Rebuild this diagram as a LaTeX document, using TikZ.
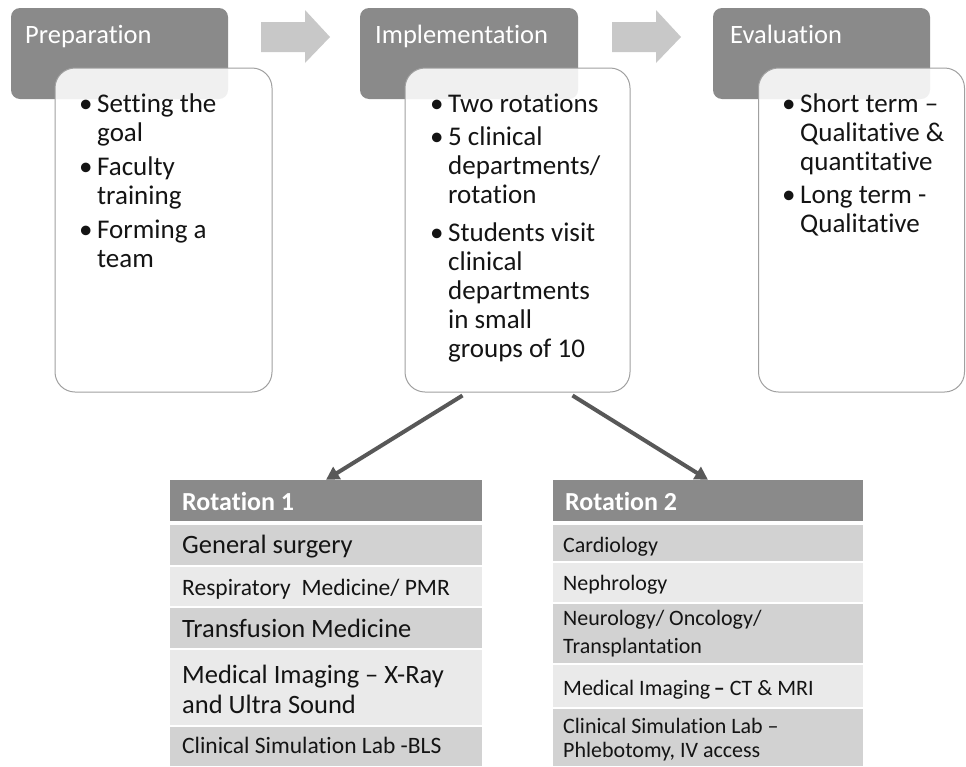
\documentclass[tikz,border=0pt]{standalone}
\usepackage{fontspec}
\setmainfont{Carlito}[Ligatures={NoCommon}]
\usetikzlibrary{arrows.meta}
\definecolor{hdr}{RGB}{138,138,138}
\definecolor{arrowfill}{RGB}{200,200,200}
\definecolor{boxline}{RGB}{160,160,160}
\definecolor{rowdark}{RGB}{210,210,210}
\definecolor{rowlight}{RGB}{234,234,234}
\definecolor{conn}{RGB}{88,88,88}
\definecolor{txt}{RGB}{20,20,20}
\newcommand{\bigbul}{\hspace*{2pt}\textbullet}
\begin{document}
\begin{tikzpicture}[x=1pt,y=-1pt,
  hdrbox/.style={fill=hdr, draw=none, rounded corners=9pt, inner sep=0pt},
  wbox/.style={fill=white, fill opacity=0.88, draw=boxline, draw opacity=1, line width=1pt, rounded corners=20pt, inner sep=0pt},
  hdrtext/.style={anchor=base west, inner sep=0pt, text=white, font=\fontsize{26.5}{30}\selectfont},
  bullets/.style={anchor=base west, inner sep=0pt, text=txt, font=\fontsize{27}{29}\selectfont},
  flowarrow/.style={fill=arrowfill, draw=none},
  tblhead/.style={fill=hdr, draw=none, inner sep=0pt},
  tblhtext/.style={anchor=base west, inner sep=0pt, text=white, font=\fontsize{26}{30}\selectfont\bfseries},
  bigrow/.style={anchor=base west, inner sep=0pt, text=txt, font=\fontsize{26.5}{30}\selectfont},
  smallrow/.style={anchor=base west, inner sep=0pt, text=txt, font=\fontsize{23.5}{26}\selectfont},
  smallrowb/.style={anchor=base west, inner sep=0pt, text=txt, font=\fontsize{22}{26}\selectfont},
  connector/.style={draw=conn, line width=4pt, -{Triangle[length=13pt,width=14pt]}}
]
\useasboundingbox (0,0) rectangle (966,766);

% flow arrows
\fill[flowarrow] (261,22) -- (305,22) -- (305,10) -- (330,37) -- (305,63) -- (305,52) -- (261,52) -- cycle;
\fill[flowarrow] (612,22) -- (656,22) -- (656,10) -- (681,37) -- (656,63) -- (656,52) -- (612,52) -- cycle;

% header boxes
\node[hdrbox, minimum width=217pt, minimum height=91pt] (prepH) at (119.5,53.5) {};
\node[hdrbox, minimum width=218pt, minimum height=91pt] (implH) at (469,53.5) {};
\node[hdrbox, minimum width=217pt, minimum height=91pt] (evalH) at (821.5,53.5) {};

\node[hdrtext] (prepHT) at (25,43) {Preparation};
\node[hdrtext] (implHT) at (375,43) {Implementation};
\node[hdrtext] (evalHT) at (730,43) {Evaluation};

% white boxes
\node[wbox, minimum width=217pt, minimum height=324pt] (prepB) at (163.5,230) {};
\node[wbox, minimum width=225pt, minimum height=324pt] (implB) at (517.5,230) {};
\node[wbox, minimum width=206pt, minimum height=324pt] (evalB) at (861.5,230) {};

% bullet texts
\node[bullets] (prepT) at (77,112) {\begin{tabular}[t]{@{}p{20pt}@{}l@{}}
\bigbul & Setting the\\ & goal\\[5pt]
\bigbul & Faculty\\ & training\\[5pt]
\bigbul & Forming a\\ & team\end{tabular}};
\node[bullets] (implT) at (428,112) {\begin{tabular}[t]{@{}p{20pt}@{}l@{}}
\bigbul & Two rotations\\[4pt]
\bigbul & 5 clinical\\ & departments/\\ & rotation\\[9pt]
\bigbul & Students visit\\ & clinical\\ & departments\\ & in small\\ & groups of 10\end{tabular}};
\node[bullets] (evalT) at (780,112) {\begin{tabular}[t]{@{}p{20pt}@{}l@{}}
\bigbul & Short term --\\ & Qualitative \&\\ & quantitative\\[4pt]
\bigbul & Long term -\\ & Qualitative\end{tabular}};

% Rotation 1 table
\node[tblhead, minimum width=312pt, minimum height=41pt] (rot1) at (326,500.5) {};
\fill[rowdark] (170,525) rectangle (482,565);
\fill[rowlight] (170,567) rectangle (482,606);
\fill[rowdark] (170,608) rectangle (482,648);
\fill[rowlight] (170,650) rectangle (482,725);
\fill[rowdark] (170,727) rectangle (482,766);
\node[tblhtext] (rot1T) at (182,510) {Rotation 1};
\node[bigrow] (r1a) at (182,553) {General surgery};
\node[smallrow] (r1b) at (182,595) {Respiratory\ \ Medicine/ PMR};
\node[bigrow] (r1c) at (182,637) {Transfusion Medicine};
\node[bigrow] (r1d) at (182,683) {Medical Imaging -- X-Ray};
\node[bigrow] (r1e) at (182,713) {and Ultra Sound};
\node[smallrow] (r1f) at (182,753) {Clinical Simulation Lab -BLS};

% Rotation 2 table
\node[tblhead, minimum width=310pt, minimum height=41pt] (rot2) at (708,500.5) {};
\fill[rowdark] (553,525) rectangle (863,561);
\fill[rowlight] (553,563) rectangle (863,602);
\fill[rowdark] (553,604) rectangle (863,663);
\fill[rowlight] (553,665) rectangle (863,707);
\fill[rowdark] (553,709) rectangle (863,766);
\node[tblhtext] (rot2T) at (565,510) {Rotation 2};
\node[smallrowb] (r2a) at (563,552) {Cardiology};
\node[smallrowb] (r2b) at (563,590) {Nephrology};
\node[smallrowb] (r2c) at (563,625) {Neurology/ Oncology/};
\node[smallrowb] (r2d) at (563,653) {Transplantation};
\node[smallrowb] (r2e) at (563,695) {Medical Imaging\,\textbf{--} CT \& MRI};
\node[smallrowb] (r2f) at (563,733) {Clinical Simulation Lab --};
\node[smallrowb] (r2g) at (563,757) {Phlebotomy, IV access};

% connectors
\draw[connector] ([xshift=-55pt,yshift=-3pt]implB.south) -- (rot1.north);
\draw[connector] ([xshift=55pt,yshift=-3pt]implB.south) -- (rot2.north);
\end{tikzpicture}
\end{document}
